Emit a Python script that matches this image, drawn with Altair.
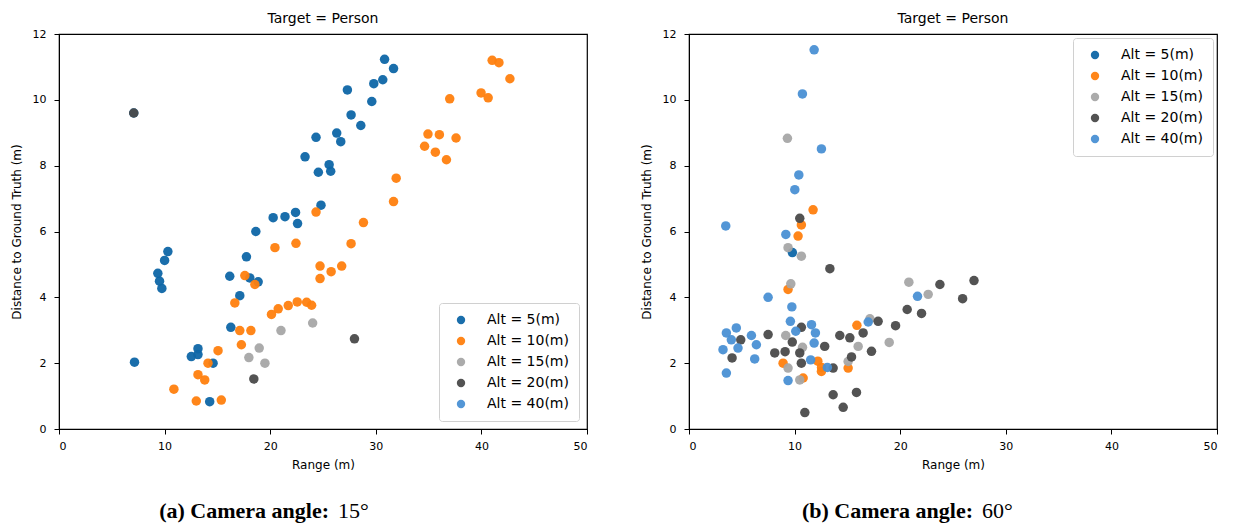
import altair as alt
import pandas as pd

ALTS = ["Alt = 5(m)", "Alt = 10(m)", "Alt = 15(m)", "Alt = 20(m)", "Alt = 40(m)"]
COLORS = ["#0e66a6", "#ff7f0e", "#a6a6a6", "#4a4a4a", "#4a90d4"]

# ---- Panel (a): camera angle 15 deg ----
a5_x = [7.08, 7.15, 9.36, 9.52, 9.74, 10.0, 10.31, 12.53, 13.16, 13.16, 14.59, 14.27,
        16.27, 16.17, 17.12, 18.07, 18.86, 17.75, 18.64, 20.28, 21.40, 22.40, 22.59,
        24.81, 24.56, 24.34, 23.30, 25.58, 25.73, 26.30, 26.68, 27.66, 28.58, 27.31,
        29.62, 29.81, 30.66, 30.83, 31.68]
a5_y = [9.60, 2.03, 4.73, 4.49, 4.27, 5.12, 5.39, 2.20, 2.26, 2.44, 2.00, 0.83,
        3.09, 4.64, 4.05, 4.59, 4.47, 5.23, 6.00, 6.42, 6.45, 6.58, 6.24,
        6.80, 7.80, 8.86, 8.27, 8.03, 7.83, 8.99, 8.73, 9.54, 9.22, 10.30,
        9.95, 10.49, 10.61, 11.23, 10.95]
a10_x = [10.88, 13.0, 15.37, 13.16, 13.80, 14.11, 15.06, 17.27, 17.12, 18.17, 16.65,
         17.60, 18.55, 20.45, 22.44, 20.12, 20.76, 21.71, 22.56, 23.45, 23.92, 24.34,
         24.72, 24.72, 25.77, 26.77, 27.66, 28.83, 31.68, 31.93, 34.62, 34.94, 36.02,
         35.64, 36.69, 37.60, 37.0, 39.97, 40.64, 41.02, 41.66, 42.70]
a10_y = [1.21, 0.85, 0.88, 1.65, 1.49, 2.00, 2.38, 2.56, 2.99, 2.99, 3.83,
         4.66, 4.39, 5.51, 5.64, 3.48, 3.65, 3.75, 3.86, 3.85, 3.76, 6.59,
         4.95, 4.57, 4.78, 4.95, 5.63, 6.27, 6.91, 7.62, 8.59, 8.96, 8.94,
         8.41, 8.18, 8.84, 10.03, 10.21, 10.06, 11.20, 11.13, 10.64]
a15_x = [17.98, 18.96, 19.50, 21.02, 24.02]
a15_y = [2.17, 2.46, 2.00, 2.99, 3.22]
a20_x = [18.45, 27.98, 7.08]
a20_y = [1.52, 2.74, 9.60]
a40_x = []
a40_y = []

# ---- Panel (b): camera angle 60 deg ----
b5_x = [9.79]
b5_y = [5.36]
b10_x = [11.75, 10.64, 10.33, 9.38, 8.91, 12.2, 12.55, 12.54, 10.81, 15.07, 15.90]
b10_y = [6.66, 6.20, 5.86, 4.24, 2.00, 2.06, 1.87, 1.75, 1.55, 1.85, 3.15]
b15_x = [9.32, 9.38, 10.64, 9.64, 9.16, 10.75, 9.38, 10.49, 16.02, 15.07, 17.13,
         18.96, 20.82, 22.65]
b15_y = [8.83, 5.51, 5.25, 4.41, 2.84, 2.48, 1.85, 1.49, 2.51, 2.05, 3.35,
         2.63, 4.46, 4.09]
b20_x = [10.49, 13.34, 4.9, 4.08, 7.49, 8.12, 10.64, 9.78, 9.1, 10.49, 10.64, 12.85,
         13.65, 10.97, 13.65, 15.86, 14.60, 14.28, 15.23, 15.39, 16.49, 17.28, 17.91,
         19.56, 20.66, 22.02, 23.76, 25.91, 26.99]
b20_y = [6.40, 4.87, 2.71, 2.16, 2.87, 2.31, 3.09, 2.64, 2.35, 2.31, 2.00, 2.51,
         1.85, 0.50, 1.04, 1.11, 0.66, 2.84, 2.77, 2.19, 2.92, 2.36, 3.27,
         3.14, 3.63, 3.51, 4.39, 3.96, 4.51]
b40_x = [11.85, 10.74, 12.54, 10.40, 10.02, 3.48, 9.17, 7.49, 9.74, 9.60, 3.54, 4.48,
         4.01, 3.22, 4.64, 5.91, 6.38, 6.22, 3.54, 11.6, 11.97, 11.85, 11.52, 13.1,
         9.38, 16.97, 21.64, 10.11]
b40_y = [11.52, 10.18, 8.51, 7.72, 7.27, 6.17, 5.91, 4.00, 3.71, 3.27, 2.92, 3.07,
         2.71, 2.41, 2.46, 2.84, 2.56, 2.13, 1.70, 3.17, 2.92, 2.61, 2.10, 1.87,
         1.47, 3.25, 4.03, 2.97]

X_TICKS = [0, 10, 20, 30, 40, 50]
Y_TICKS = [0, 2, 4, 6, 8, 10, 12]

W, H = 528, 395


def frame(series):
    rows = []
    for lab, xs, ys in series:
        for xv, yv in zip(xs, ys):
            rows.append({"alt": lab, "range": xv, "dist": yv})
    return pd.DataFrame(rows)


def panel(df, legend_orient, legend_offset, cap_bold, cap_deg, cap_x):
    pts = alt.Chart(df).mark_circle(size=90, opacity=0.95).encode(
        x=alt.X("range:Q", title="Range (m)",
                scale=alt.Scale(domain=[0, 50], nice=False),
                axis=alt.Axis(values=X_TICKS, grid=False)),
        y=alt.Y("dist:Q", title="Distance to Ground Truth (m)",
                scale=alt.Scale(domain=[0, 12], nice=False),
                axis=alt.Axis(values=Y_TICKS, grid=False)),
        color=alt.Color("alt:N", scale=alt.Scale(domain=ALTS, range=COLORS),
                        sort=ALTS,
                        legend=alt.Legend(title=None, orient=legend_orient,
                                          offset=legend_offset, symbolType="circle")),
    )
    cap1 = alt.Chart(pd.DataFrame({"t": [cap_bold]})).mark_text(
        font="Liberation Serif", fontSize=22, fontWeight="bold", align="right",
        baseline="alphabetic", color="black"
    ).encode(text="t:N", x=alt.value(cap_x), y=alt.value(H + 89))
    cap2 = alt.Chart(pd.DataFrame({"t": [cap_deg]})).mark_text(
        font="Liberation Serif", fontSize=22, fontWeight="normal", align="left",
        baseline="alphabetic", color="black"
    ).encode(text="t:N", x=alt.value(cap_x + 9), y=alt.value(H + 89))
    return alt.layer(pts, cap1, cap2).properties(
        width=W, height=H,
        title=alt.TitleParams("Target = Person", font="DejaVu Sans", fontSize=14,
                              fontWeight="normal", offset=2, color="black"),
    )


df_a = frame([(ALTS[0], a5_x, a5_y), (ALTS[1], a10_x, a10_y), (ALTS[2], a15_x, a15_y),
              (ALTS[3], a20_x, a20_y), (ALTS[4], a40_x, a40_y)])
df_b = frame([(ALTS[0], b5_x, b5_y), (ALTS[1], b10_x, b10_y), (ALTS[2], b15_x, b15_y),
              (ALTS[3], b20_x, b20_y), (ALTS[4], b40_x, b40_y)])

left = panel(df_a, "bottom-right", 8, "(a) Camera angle:", "15°", 270)
right = panel(df_b, "top-right", 4, "(b) Camera angle:", "60°", 284)

chart = alt.hconcat(left, right, spacing=50).resolve_scale(color="independent") \
    .resolve_legend(color="independent").properties(
        padding={"left": 9, "top": 11, "right": 0, "bottom": 0}
    ).configure_view(stroke="black", strokeWidth=1.2) \
    .configure_axis(domainColor="black", tickColor="black", labelColor="black",
                    titleColor="black", labelFont="DejaVu Sans", titleFont="DejaVu Sans",
                    labelFontSize=11, titleFontSize=12, titleFontWeight="normal",
                    tickSize=5) \
    .configure_axisX(labelPadding=6, titlePadding=8) \
    .configure_axisY(labelPadding=8, titlePadding=9) \
    .configure_legend(labelFont="DejaVu Sans", labelFontSize=14, labelColor="black",
                      symbolSize=70, strokeColor="#d0d0d0", fillColor="white",
                      cornerRadius=3, padding=10, rowPadding=7, labelOffset=19,
                      symbolOffset=5, symbolStrokeWidth=0)

chart.save("out.html", embed_options={"renderer": "svg", "actions": False})
